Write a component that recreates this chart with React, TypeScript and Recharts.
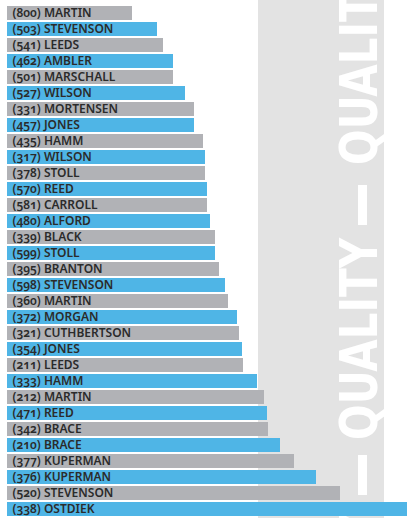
import React from 'react';
import { BarChart, Bar, XAxis, YAxis, Cell, LabelList } from 'recharts';

const names = ['MARTIN','STEVENSON','LEEDS','AMBLER','MARSCHALL','WILSON','MORTENSEN','JONES','HAMM','WILSON','STOLL','REED','CARROLL','ALFORD','BLACK','STOLL','BRANTON','STEVENSON','MARTIN','MORGAN','CUTHBERTSON','JONES','LEEDS','HAMM','MARTIN','REED','BRACE','BRACE','KUPERMAN','KUPERMAN','STEVENSON','OSTDIEK'];
const codes = [800,503,541,462,501,527,331,457,435,317,378,570,581,480,339,599,395,598,360,372,321,354,211,333,212,471,342,210,377,376,520,338];
const values = [125,150,156,166,166,178,187,187,196,198,198,200,200,203,208,208,212,218,221,230,232,235,236,250,257,260,261,273,287,309,333,400];

const GRAY = '#b1b2b6';
const BLUE = '#4fb5e6';
const BAND = '#e3e3e3';

const data = names.map((n, i) => ({ id: i, label: `(${codes[i]}) ${n}`, value: values[i] }));

const W = 407;
const H = 518;

const renderLabel = (props: any) => {
  const { x, y, height, value } = props;
  return (
    <text
      x={Number(x) + 5.5}
      y={Number(y) + Number(height) / 2 + 4.3}
      fill="#2b2b2b"
      fontSize={12}
      fontWeight={600}
      fontFamily="'Noto Sans', 'Open Sans', sans-serif"
      style={{ fontVariantNumeric: 'oldstyle-nums' }}
    >
      {value}
    </text>
  );
};

const Background = () => (
  <svg width={W} height={H} style={{ position: 'absolute', left: 0, top: 0 }}>
    <rect x={258} y={0} width={126} height={H} fill={BAND} />
    <g fill="#ffffff" fontFamily="'DejaVu Sans Condensed', 'DejaVu Sans', sans-serif" fontWeight="bold" fontSize={51}>
      <text transform="translate(377,440) rotate(-90)" textLength={202} lengthAdjust="spacingAndGlyphs">QUALITY</text>
      <text transform="translate(377,165) rotate(-90)" textLength={202} lengthAdjust="spacingAndGlyphs">QUALITY</text>
      <text transform="translate(377,715) rotate(-90)" textLength={202} lengthAdjust="spacingAndGlyphs">QUALITY</text>
    </g>
    <rect x={358} y={185} width={9} height={40} fill="#ffffff" />
    <rect x={358} y={455} width={9} height={40} fill="#ffffff" />
  </svg>
);

export default function App() {
  return (
    <div style={{ position: 'absolute', left: 0, top: 0, width: W, height: H, background: '#ffffff', overflow: 'hidden' }}>
      <Background />
      <div style={{ position: 'absolute', left: 0, top: 0 }}>
        <BarChart
          width={W}
          height={H}
          data={data}
          layout="vertical"
          margin={{ top: 5, right: 0, left: 7, bottom: 1 }}
          barCategoryGap={1}
        >
          <XAxis type="number" hide domain={[0, 400]} allowDataOverflow />
          <YAxis type="category" dataKey="id" hide />
          <Bar dataKey="value" barSize={14} isAnimationActive={false}>
            {data.map((d, i) => (
              <Cell key={d.id} fill={i % 2 === 0 ? GRAY : BLUE} />
            ))}
            <LabelList dataKey="label" content={renderLabel} />
          </Bar>
        </BarChart>
      </div>
    </div>
  );
}
